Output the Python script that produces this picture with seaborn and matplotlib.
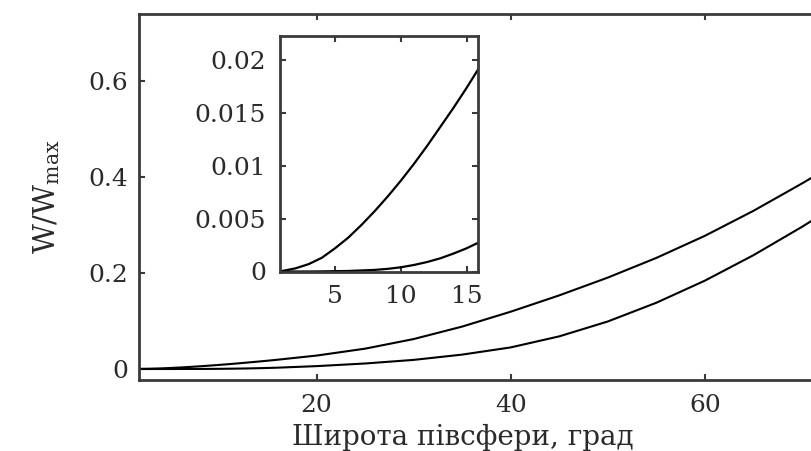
import matplotlib
matplotlib.use('Agg')
import matplotlib.pyplot as plt
import seaborn as sns
import pandas as pd
import numpy as np

# Широта (град) та відношення W/Wmax для двох кривих
lat = [0.8, 2, 3, 4, 5, 6, 7, 8, 9, 10, 11, 12, 13, 14, 15, 16,
       20, 25, 30, 35, 40, 45, 50, 55, 60, 65, 70, 73]
w_upper = [0.0, 0.0003, 0.0007, 0.0013, 0.0022, 0.0032, 0.0044, 0.0057, 0.0071,
           0.0086, 0.0102, 0.0119, 0.0137, 0.0155, 0.0174, 0.0194,
           0.028, 0.0424, 0.0624, 0.0884, 0.1194, 0.1534, 0.1904, 0.2314,
           0.2774, 0.3294, 0.3864, 0.4219]
w_lower = [0.0, 0.0, 0.0, 0.00001, 0.00003, 0.00005, 0.0001, 0.00015, 0.00025,
           0.0004, 0.00062, 0.0009, 0.00125, 0.0017, 0.0022, 0.0028,
           0.006, 0.0115, 0.019, 0.030, 0.045, 0.068, 0.099, 0.138,
           0.184, 0.237, 0.296, 0.334]

main_xticks = [20, 40, 60]
main_yticks = [0, 0.2, 0.4, 0.6]
main_ylabels = ['0', '0.2', '0.4', '0.6']
inset_xticks = [5, 10, 15]
inset_yticks = [0, 0.005, 0.01, 0.015, 0.02]
inset_ylabels = ['0', '0.005', '0.01', '0.015', '0.02']

data = pd.DataFrame({'lat': lat, 'upper': w_upper, 'lower': w_lower})

sns.set_theme(style='white')
plt.rcParams['font.family'] = ['DejaVu Serif']
plt.rcParams['mathtext.fontset'] = 'dejavuserif'

spine_col = '#3a3a3a'
text_col = '#2a2a2a'

fig = plt.figure(figsize=(8.12, 4.51), dpi=100)
ax = fig.add_axes([139 / 812, 71 / 451, (830 - 139) / 812, 366 / 451])

sns.lineplot(data=data, x='lat', y='upper', ax=ax, color='black', linewidth=1.5)
sns.lineplot(data=data, x='lat', y='lower', ax=ax, color='black', linewidth=1.5)

ax.set_xlim(1.7, 72.9)
ax.set_ylim(-0.0229, 0.7396)
ax.set_xticks(main_xticks)
ax.set_xticklabels([str(t) for t in main_xticks])
ax.set_yticks(main_yticks)
ax.set_yticklabels(main_ylabels)
ax.tick_params(direction='in', length=4, width=1.5, color=spine_col,
               labelsize=18, labelcolor=text_col, top=True, right=True,
               bottom=True, left=True)
ax.tick_params(axis='x', pad=10)
ax.tick_params(axis='y', pad=8)
for s in ax.spines.values():
    s.set_color(spine_col)
    s.set_linewidth(2)

ax.set_xlabel('Широта півсфери, град', fontsize=20, color=text_col,
              va='baseline')
ax.xaxis.set_label_coords(0.469, -0.178)
ax.set_ylabel(r'$\mathrm{W/W_{max}}$', fontsize=21, color=text_col)
ax.yaxis.set_label_coords(-0.112, 0.5)

# Вставка: збільшений фрагмент початку кривих
ins = fig.add_axes([280 / 812, 179.5 / 451, 198 / 812, 235.5 / 451])
sns.lineplot(data=data, x='lat', y='upper', ax=ins, color='black', linewidth=1.6)
sns.lineplot(data=data, x='lat', y='lower', ax=ins, color='black', linewidth=1.6)
ins.set_xlim(0.82, 15.86)
ins.set_ylim(0, 0.0223)
ins.set_xticks(inset_xticks)
ins.set_xticklabels([str(t) for t in inset_xticks])
ins.set_yticks(inset_yticks)
ins.set_yticklabels(inset_ylabels)
ins.tick_params(direction='in', length=4, width=1.5, color=spine_col,
                labelsize=18, labelcolor=text_col, top=True, right=True,
                bottom=True, left=True, pad=10)
ins.set_xlabel('')
ins.set_ylabel('')
for s in ins.spines.values():
    s.set_color(spine_col)
    s.set_linewidth(2)

fig.savefig('out.png', dpi=100)
plt.close(fig)
